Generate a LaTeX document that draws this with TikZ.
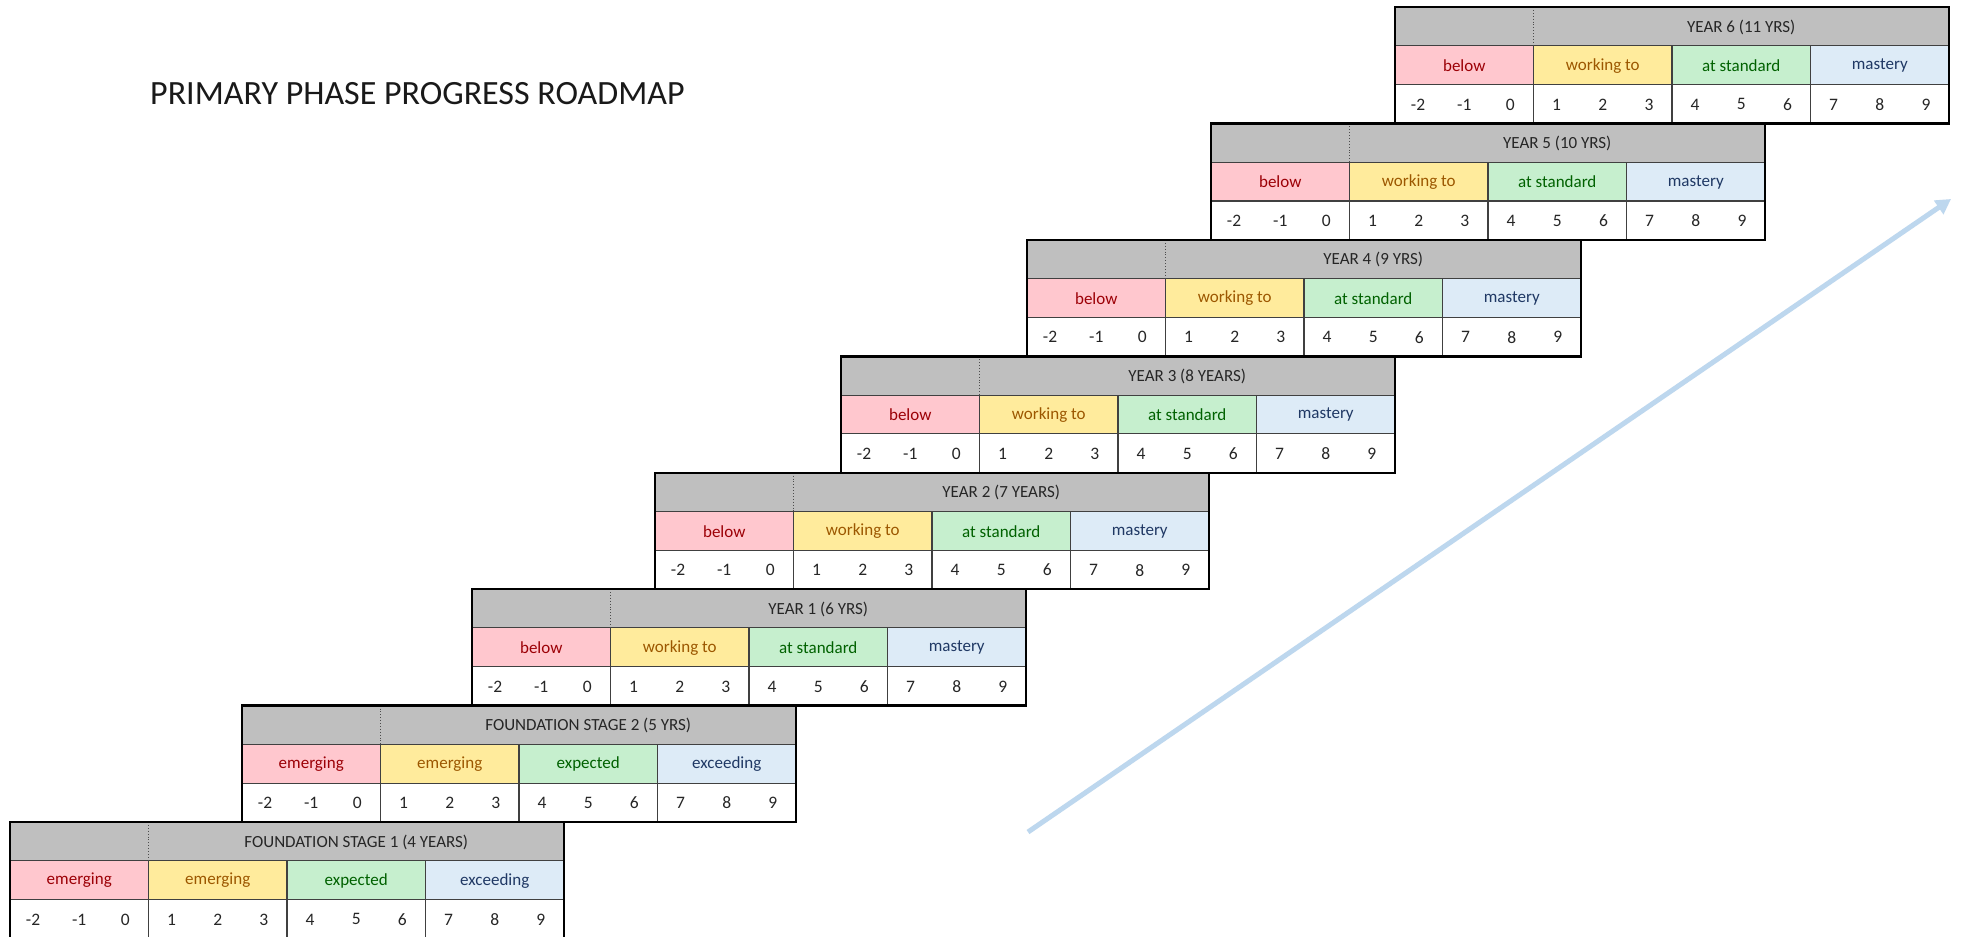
\documentclass[tikz,border=0pt]{standalone}
\usepackage{fontspec}
\setmainfont{Carlito}
\usetikzlibrary{arrows.meta}
\definecolor{hdrgray}{HTML}{BFBFBF}
\definecolor{pinkfill}{HTML}{FFC7CE}
\definecolor{pinktext}{HTML}{9C0006}
\definecolor{yelfill}{HTML}{FFEB9C}
\definecolor{yeltext}{HTML}{9C5700}
\definecolor{grnfill}{HTML}{C6EFCE}
\definecolor{grntext}{HTML}{006100}
\definecolor{blufill}{HTML}{DDEBF7}
\definecolor{blutext}{HTML}{1F3864}
\definecolor{arrowblue}{HTML}{BDD7EE}
\definecolor{celltext}{HTML}{262626}
\tikzset{
  outerline/.style={draw=black, line width=2.4pt},
  innerline/.style={draw=black!75, line width=1.1pt},
  dotline/.style={draw=black!70, line width=0.9pt, dotted},
  hdrtext/.style={font=\fontsize{17}{20}\selectfont, text=celltext, inner sep=0pt},
  lbltext/.style={font=\fontsize{17}{20}\selectfont, inner sep=0pt},
  numtext/.style={font=\fontsize{17.5}{20}\selectfont, text=celltext, inner sep=0pt},
  titletext/.style={font=\fontsize{34}{40}\selectfont, text=black!90, inner sep=0pt, anchor=base west},
  progarrow/.style={draw=arrowblue, line width=5pt, -{Triangle[length=15pt,width=16pt]}},
}
\newcommand{\roadtable}[8]{%
  \begin{scope}[shift={(#2,#3)}]
    \fill[hdrgray] (0,0) rectangle (554,38.8);
    \fill[pinkfill] (0,38.8) rectangle (138.5,77.6);
    \fill[yelfill] (138.5,38.8) rectangle (277,77.6);
    \fill[grnfill] (277,38.8) rectangle (415.5,77.6);
    \fill[blufill] (415.5,38.8) rectangle (554,77.6);
    \fill[white] (0,77.6) rectangle (554,116.4);
    \draw[innerline] (0,38.8) -- (554,38.8) (0,77.6) -- (554,77.6);
    \draw[innerline] (138.5,38.8) -- (138.5,116.4) (277,38.8) -- (277,116.4) (415.5,38.8) -- (415.5,116.4);
    \draw[dotline] (138.5,0) -- (138.5,38.8);
    \draw[outerline] (0,0) rectangle (554,116.4);
    \node[hdrtext] (#1-title) at (346.25,20) {#4};
    \node[lbltext, text=pinktext] (#1-l1) at (69.25,58.6) {#5};
    \node[lbltext, text=yeltext] (#1-l2) at (207.75,58.6) {#6};
    \node[lbltext, text=grntext] (#1-l3) at (346.25,58.6) {#7};
    \node[lbltext, text=blutext] (#1-l4) at (484.75,58.6) {#8};
    \foreach \n [count=\i] in {-2,-1,0,1,2,3,4,5,6,7,8,9}
      \node[numtext] (#1-n\i) at ({(\i-0.5)*46.1667},97.4) {\n};
  \end{scope}}
\begin{document}
\begin{tikzpicture}[x=1pt,y=-1pt]
  \useasboundingbox (0,0) rectangle (1968,937);
  \fill[white] (0,0) rectangle (1968,937);
  \node[titletext] (title) at (150,104) {PRIMARY PHASE PROGRESS ROADMAP};
  \roadtable{y6}{1395}{7}{YEAR 6 (11 YRS)}{below}{working to}{at standard}{mastery}
  \roadtable{y5}{1211}{123.4}{YEAR 5 (10 YRS)}{below}{working to}{at standard}{mastery}
  \roadtable{y4}{1027}{239.9}{YEAR 4 (9 YRS)}{below}{working to}{at standard}{mastery}
  \roadtable{y3}{841}{356.3}{YEAR 3 (8 YEARS)}{below}{working to}{at standard}{mastery}
  \roadtable{y2}{655}{472.7}{YEAR 2 (7 YEARS)}{below}{working to}{at standard}{mastery}
  \roadtable{y1}{472}{589.1}{YEAR 1 (6 YRS)}{below}{working to}{at standard}{mastery}
  \roadtable{fs2}{242}{705.6}{FOUNDATION STAGE 2 (5 YRS)}{emerging}{emerging}{expected}{exceeding}
  \roadtable{fs1}{10}{822}{FOUNDATION STAGE 1 (4 YEARS)}{emerging}{emerging}{expected}{exceeding}
  \coordinate (arrowtail) at (1028,832);
  \coordinate (arrowhead) at (1951,199);
  \draw[progarrow] (arrowtail) -- (arrowhead);
\end{tikzpicture}
\end{document}
